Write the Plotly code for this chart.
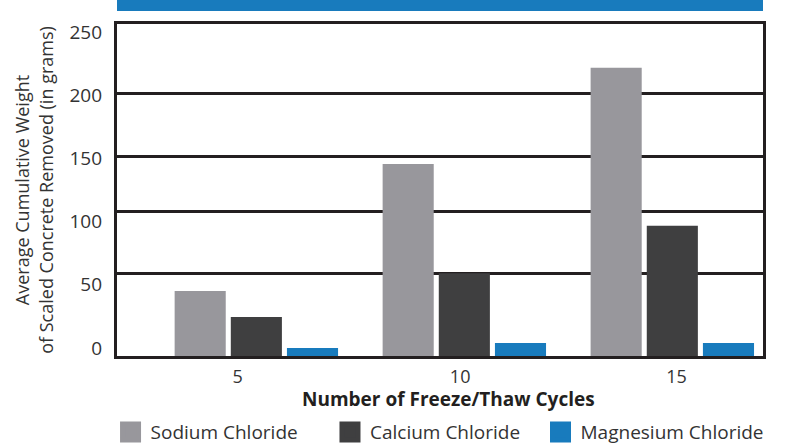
import plotly.graph_objects as go

# ---- data ----
cycles = ["5", "10", "15"]
sodium = [49, 144.6, 217]
calcium = [29.4, 62.3, 98]
magnesium = [6, 9.8, 9.8]
series_names = ["Sodium Chloride", "Calcium Chloride", "Magnesium Chloride"]
series_colors = ["#98979c", "#3f3f40", "#187bbd"]
legend_ids = ["legend", "legend2", "legend3"]
legend_x = [-0.010, 0.3297, 0.6556]

# irregular gridlines of the original (value positions on the bar scale)
grid_values = [62.5, 109, 150, 198]
# tick labels of the original (drawn on an overlaid label axis)
y_tick_values = [0, 50, 100, 150, 200, 250]
y_tick_text = ["0", "50", "100", "150", "200", "250"]
x_tick_positions = [-0.09, 0.98, 2.02]

x_range = [-0.67, 2.436]
y_range = [0, 250]
y_label_range = [-6.3, 256.3]

FONT = "Open Sans"
INK = "#231f20"
TXT = "#333333"

fig = go.Figure()
for name, vals, col in zip(series_names, [sodium, calcium, magnesium], series_colors):
    fig.add_trace(go.Bar(x=cycles, y=vals, name=name, showlegend=False,
                         marker=dict(color=col, line=dict(width=0))))

# legend entries (square swatches) on the label axes, one legend box each
for name, col, lid in zip(series_names, series_colors, legend_ids):
    fig.add_trace(go.Scatter(x=[None], y=[None], xaxis="x2", yaxis="y2", mode="markers", name=name,
                             legend=lid,
                             marker=dict(symbol="square", size=23, color=col,
                                         line=dict(color=col, width=7)),
                             hoverinfo="skip"))

legend_style = dict(orientation="h", xanchor="left", y=-0.229, yanchor="middle",
                    font=dict(size=19, color=TXT), bgcolor="rgba(0,0,0,0)")

fig.update_layout(
    width=788, height=444,
    margin=dict(l=117, r=25, t=24, b=88, autoexpand=False),
    paper_bgcolor="white", plot_bgcolor="white",
    font=dict(family=FONT, color=INK),
    barmode="group", bargap=0.19, bargroupgap=0.09,
    showlegend=True,
    legend=dict(x=legend_x[0], **legend_style),
    legend2=dict(x=legend_x[1], **legend_style),
    legend3=dict(x=legend_x[2], **legend_style),
    xaxis=dict(type="category", range=x_range, showticklabels=False, showgrid=False,
               showline=True, mirror=True, linecolor=INK, linewidth=2.5, ticks="", zeroline=False,
               automargin=False),
    yaxis=dict(range=y_range, tickmode="array", tickvals=grid_values, showticklabels=False,
               showgrid=True, gridcolor=INK, gridwidth=2.5, showline=True, mirror=True,
               linecolor=INK, linewidth=2.5, ticks="", zeroline=False, automargin=False),
    xaxis2=dict(overlaying="x", anchor="y2", type="linear", range=x_range, tickmode="array",
                tickvals=x_tick_positions, ticktext=cycles, showgrid=False, zeroline=False,
                showline=False, ticks="", ticklabelstandoff=8, automargin=False,
                tickfont=dict(size=18, color=TXT)),
    yaxis2=dict(overlaying="y", anchor="x2", side="left", range=y_label_range, tickmode="array",
                tickvals=y_tick_values, ticktext=y_tick_text, showgrid=False, zeroline=False,
                showline=False, ticks="", ticklabelstandoff=14, automargin=False,
                tickfont=dict(size=19, color=TXT),
                title=dict(text="Average Cumulative Weight<br>of Scaled Concrete Removed (in grams)",
                           standoff=11, font=dict(size=18, color=TXT))),
    annotations=[dict(text="<b>Number of Freeze/Thaw Cycles</b>", xref="paper", yref="paper",
                      x=0.5124, y=-0.131, xanchor="center", yanchor="middle", showarrow=False,
                      font=dict(size=19, color=INK))],
    shapes=[dict(type="rect", xref="paper", yref="paper", x0=0, x1=1, y0=1.039, y1=1.075,
                 fillcolor="#187bbd", line=dict(width=0), layer="above")],
)

fig.write_html("out.html", config={"displayModeBar": False},
               post_script="document.body.style.margin='0';")
